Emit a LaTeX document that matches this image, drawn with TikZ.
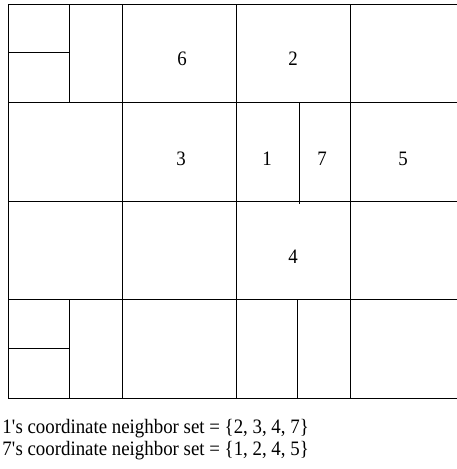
\documentclass[tikz,border=0pt]{standalone}
\usepackage{fontspec}
\setmainfont{Liberation Serif}
\newfontfamily\narrowserif[FakeStretch=0.92]{Liberation Serif}
\usepackage{tikz}

\begin{document}
\begin{tikzpicture}[x=1pt, y=-1pt, line width=0.9pt,
		cell label/.style={font=\narrowserif\fontsize{20.5}{22}\selectfont},
		set line/.style={anchor=base west, inner sep=0pt, font=\narrowserif\fontsize{20.5}{22}\selectfont}]

		\useasboundingbox (0, 0) rectangle (457, 469);

		% Outer frame (open on the right)
		\draw (457, 4) -- (8, 4) -- (8, 398) -- (457, 398);

		% Full rows
		\foreach \y in {102, 201, 299} {
				\draw (8, \y) -- (457, \y);
			}

		% Full columns
		\foreach \x in {122, 236, 350} {
				\draw (\x, 4) -- (\x, 398);
			}

		% Small cells, top left and bottom left
		\draw (69, 4) -- (69, 102);
		\draw (8, 52) -- (69, 52);
		\draw (69, 299) -- (69, 398);
		\draw (8, 348) -- (69, 348);

		% Split of the middle cell
		\draw (299, 102) -- (299, 204);
		\draw (297, 299) -- (297, 398);

		% Cell labels
		\node[cell label] (L6) at (182, 59) {6};
		\node[cell label] (L2) at (293, 59) {2};
		\node[cell label] (L3) at (181, 159) {3};
		\node[cell label] (L1) at (267, 159) {1};
		\node[cell label] (L7) at (322, 159) {7};
		\node[cell label] (L5) at (403, 159) {5};
		\node[cell label] (L4) at (293, 257) {4};

		% Neighbor sets
		\node[set line] (N1) at (2, 433) {1\textquotesingle s coordinate neighbor set = \{2, 3, 4, 7\}};
		\node[set line] (N7) at (2, 455) {7\textquotesingle s coordinate neighbor set = \{1, 2, 4, 5\}};

	\end{tikzpicture}
\end{document}
